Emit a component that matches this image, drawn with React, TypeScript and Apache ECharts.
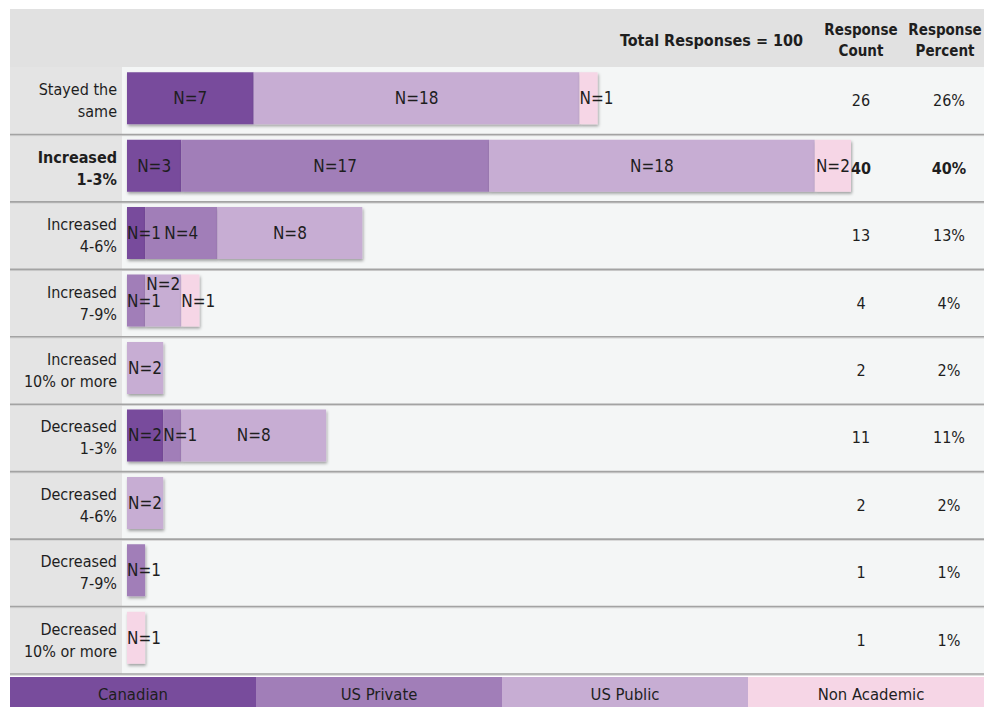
import React, { useEffect, useRef } from 'react';
import * as echarts from 'echarts';

// ---- data ----
const categories = [
  'Stayed the\nsame',
  'Increased\n1-3%',
  'Increased\n4-6%',
  'Increased\n7-9%',
  'Increased\n10% or more',
  'Decreased\n1-3%',
  'Decreased\n4-6%',
  'Decreased\n7-9%',
  'Decreased\n10% or more',
];
const seriesNames = ['Canadian', 'US Private', 'US Public', 'Non Academic'];
const canadian = [7, 3, 1, 0, 0, 2, 0, 0, 0];
const usPrivate = [0, 17, 4, 1, 0, 1, 0, 1, 0];
const usPublic = [18, 18, 8, 2, 2, 8, 2, 0, 0];
const nonAcademic = [1, 2, 0, 1, 0, 0, 0, 0, 1];
const highlightRow = 1;
const headerTotalLabel = 'Total Responses';
const countHeader = 'Response\nCount';
const percentHeader = 'Response\nPercent';

// ---- styles ----
const colors = ['#784c9c', '#a17eb8', '#c7add3', '#f6d6e6'];
const FONT = '"DejaVu Sans Condensed", "DejaVu Sans", sans-serif';
const TEXT = '#1e1e1e';

export default function App() {
  const ref = useRef<HTMLDivElement>(null);

  useEffect(() => {
    if (!ref.current) return;
    const chart = echarts.init(ref.current, undefined, { renderer: 'svg' });

    const seriesData = [canadian, usPrivate, usPublic, nonAcademic];
    const counts = categories.map((_, i) => seriesData.reduce((s, arr) => s + arr[i], 0));
    const total = counts.reduce((a, b) => a + b, 0);
    const percents = counts.map((c) => Math.round((c / total) * 100) + '%');

    // layout
    const X0 = 10;
    const Y0 = 9;
    const FULLW = 984;
    const gridLeft = 127;
    const bandTop = 67;
    const gridH = 607;
    const barShift = 2.5;
    const gridTop = bandTop - barShift;
    const xMax = 40;
    const gridW = 724;
    const bandH = gridH / categories.length;
    const countX = gridLeft + gridW + 10;
    const percentOffset = 88;
    const legendY = 677;
    const legendW = 246;

    const raised: Record<string, number> = { '3-2': -17 };

    const series = seriesData.map((arr, si) => ({
      name: seriesNames[si],
      type: 'bar',
      stack: 'total',
      barWidth: 52,
      z: 3,
      itemStyle: {
        color: colors[si],
        shadowColor: 'rgba(0,0,0,0.35)',
        shadowBlur: 3,
        shadowOffsetX: 1,
        shadowOffsetY: 2,
      },
      label: {
        show: true,
        position: 'inside',
        color: TEXT,
        fontSize: 17,
        fontFamily: FONT,
        formatter: (p: any) => (p.value ? `N=${p.value}` : ''),
      },
      data: arr.map((v, ri) => {
        const item: any = { value: v };
        if (v === 1) {
          item.label = { position: 'insideLeft', distance: 0 };
        }
        const off = raised[`${ri}-${si}`];
        if (off !== undefined) {
          item.label = { ...(item.label || {}), offset: [0, off] };
        }
        if (v === 0) {
          item.itemStyle = { opacity: 0 };
        }
        return item;
      }),
    }));

    const graphics: any[] = [];
    graphics.push({ type: 'rect', z: -20, silent: true, shape: { x: X0, y: Y0, width: FULLW, height: bandTop - Y0 }, style: { fill: '#e1e1e1' } });
    graphics.push({ type: 'rect', z: -20, silent: true, shape: { x: X0, y: bandTop, width: 112, height: gridH }, style: { fill: '#e4e4e4' } });
    graphics.push({ type: 'rect', z: -20, silent: true, shape: { x: 122, y: bandTop, width: FULLW, height: gridH }, style: { fill: '#f4f6f6' } });
    for (let k = 1; k <= categories.length; k++) {
      const y = bandTop + k * bandH;
      graphics.push({ type: 'line', z: -10, silent: true, shape: { x1: X0, y1: y + 1.2, x2: FULLW + 20, y2: y + 1.2 }, style: { stroke: '#d2d2d2', lineWidth: 1 } });
      graphics.push({ type: 'line', z: -9, silent: true, shape: { x1: X0, y1: y, x2: FULLW + 20, y2: y }, style: { stroke: '#a3a3a3', lineWidth: 1.6 } });
    }
    // header texts
    graphics.push({ type: 'text', z: 10, x: 803, y: 40, style: { text: `${headerTotalLabel} = ${total}`, fontSize: 16, fontWeight: 'bold', fontFamily: FONT, fill: TEXT, align: 'right', verticalAlign: 'middle' } });
    graphics.push({ type: 'text', z: 10, x: countX, y: 40, style: { text: countHeader, fontSize: 15, fontWeight: 'bold', fontFamily: FONT, fill: TEXT, align: 'center', verticalAlign: 'middle', lineHeight: 21 } });
    graphics.push({ type: 'text', z: 10, x: countX + percentOffset - 4, y: 40, style: { text: percentHeader, fontSize: 15, fontWeight: 'bold', fontFamily: FONT, fill: TEXT, align: 'center', verticalAlign: 'middle', lineHeight: 21 } });
    // legend
    seriesNames.forEach((name, i) => {
      const lx = X0 + i * legendW;
      graphics.push({ type: 'rect', z: 5, silent: true, shape: { x: lx, y: legendY, width: legendW, height: 40 }, style: { fill: colors[i] } });
      graphics.push({ type: 'text', z: 10, x: lx + legendW / 2, y: 694, style: { text: name, fontSize: 16.5, fontFamily: FONT, fill: TEXT, align: 'center', verticalAlign: 'middle' } });
    });

    const boldRich = { b: { fontWeight: 'bold', fontSize: 16, fontFamily: FONT, color: TEXT, lineHeight: 22 } };
    const fmtBold = (s: string, i: number) =>
      i === highlightRow ? s.split('\n').map((t) => `{b|${t}}`).join('\n') : s;
    const labelPad = [barShift * 2, 0, 0, 0];

    const sideAxis = (offset: number, values: (string | number)[]) => ({
      type: 'category',
      data: categories,
      inverse: true,
      position: 'right',
      offset,
      axisLine: { show: false },
      axisTick: { show: false },
      splitLine: { show: false },
      axisLabel: {
        margin: 10,
        align: 'center',
        fontSize: 16,
        fontFamily: FONT,
        color: TEXT,
        padding: labelPad,
        rich: boldRich,
        formatter: (_: string, i: number) => fmtBold(String(values[i]), i),
      },
    });

    chart.setOption({
      animation: false,
      textStyle: { fontFamily: FONT },
      grid: { left: gridLeft, top: gridTop, width: gridW, height: gridH, containLabel: false },
      xAxis: { type: 'value', min: 0, max: xMax, show: false },
      yAxis: [
        {
          type: 'category',
          data: categories,
          inverse: true,
          axisLine: { show: false },
          axisTick: { show: false },
          splitLine: { show: false },
          axisLabel: {
            margin: 10,
            fontSize: 16,
            lineHeight: 22,
            fontFamily: FONT,
            color: TEXT,
            align: 'right',
            padding: labelPad,
            rich: boldRich,
            formatter: (v: string, i: number) => fmtBold(v, i),
          },
        },
        sideAxis(0, counts),
        sideAxis(percentOffset, percents),
      ],
      series,
      graphic: { elements: graphics },
    });

    return () => chart.dispose();
  }, []);

  return (
    <div
      ref={ref}
      style={{ position: 'fixed', left: 0, top: 0, width: 984, height: 707, background: '#fff' }}
    />
  );
}
